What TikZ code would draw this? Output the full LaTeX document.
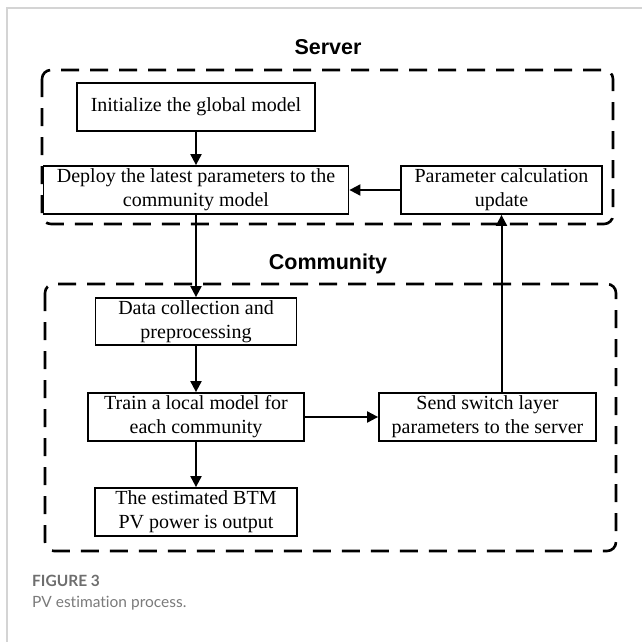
\documentclass[tikz,border=0pt]{standalone}
\usepackage{fontspec}
\setmainfont{Liberation Serif}
\newfontfamily\titlefont{Liberation Sans}
\newfontfamily\capfont[Ligatures=NoCommon]{Lato}
\usetikzlibrary{arrows.meta}
\definecolor{framegray}{HTML}{D4D4D4}
\definecolor{capgray}{HTML}{7A7A7A}
\definecolor{capgrayb}{HTML}{6E6E6E}
\begin{document}
\begin{tikzpicture}[x=1pt,y=-1pt,
  procbox/.style={draw=black,line width=1.8pt,inner sep=0pt,align=center,
    font=\fontsize{20}{24}\selectfont},
  groupbox/.style={draw=black,line width=2.6pt,dash pattern=on 18pt off 11pt,rounded corners=9pt},
  arr/.style={line width=2pt,-{Triangle[length=11pt,width=11pt]}},
  grouptitle/.style={font=\titlefont\bfseries\fontsize{21.5}{24}\selectfont,anchor=base}
]
\useasboundingbox (0,0) rectangle (642,642);
% page frame
\draw[framegray,line width=1.5pt] (7,642) -- (7,8) -- (642,8);

% group boxes
\draw[groupbox] (42,70) rectangle (613,224);
\draw[groupbox] (45,284) rectangle (616,551);
\node[grouptitle] (servertitle) at (328,55) {Server};
\node[grouptitle] (commtitle) at (328,269) {Community};

% process boxes
\node[procbox,minimum width=238pt,minimum height=48pt] (init) at (196,107) {Initialize the global model};
\node[procbox,minimum width=305pt,minimum height=48pt] (deploy) at (196,190) {Deploy the latest parameters to the\\community model};
\node[procbox,minimum width=201pt,minimum height=48pt] (param) at (501.5,190) {Parameter calculation\\update};
\node[procbox,minimum width=201pt,minimum height=47pt] (data) at (196,321.5) {Data collection and\\preprocessing};
\node[procbox,minimum width=216pt,minimum height=48pt] (train) at (196,417) {Train a local model for\\each community};
\node[procbox,minimum width=217pt,minimum height=48pt] (send) at (487.5,417) {Send switch layer\\parameters to the server};
\node[procbox,minimum width=202pt,minimum height=48pt] (btm) at (196,512) {The estimated BTM\\PV power is output};

% connectors
\draw[arr] (init.south) -- (deploy.north -| init.south);
\draw[arr] (deploy.south) -- (data.north -| deploy.south);
\draw[arr] (data.south) -- (train.north -| data.south);
\draw[arr] (train.south) -- (btm.north -| train.south);
\draw[arr] (train.east) -- (send.west);
\draw[arr] (param.west) -- (deploy.east);
\draw[arr] (send.north -| param.south) -- (param.south);

% caption
\node[anchor=base west,inner sep=0pt,text=capgrayb,font=\capfont\bfseries\fontsize{15.5}{18}\selectfont] (figlabel) at (32,586) {FIGURE 3};
\node[anchor=base west,inner sep=0pt,text=capgray,font=\capfont\fontsize{15.5}{18}\selectfont] (figcap) at (32,607) {PV estimation process.};
\end{tikzpicture}
\end{document}
